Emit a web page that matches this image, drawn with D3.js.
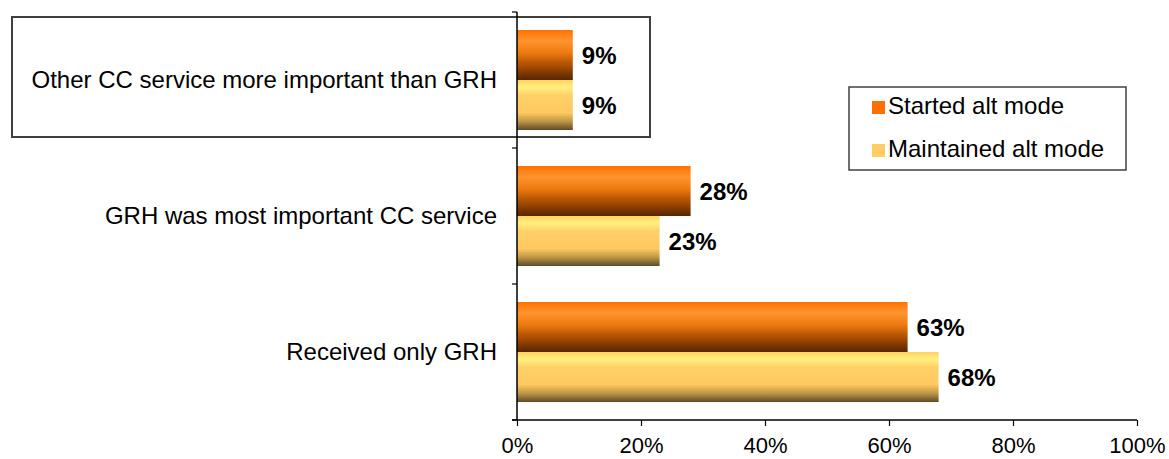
<!DOCTYPE html>
<html>
<head>
<meta charset="utf-8">
<script src="https://cdn.jsdelivr.net/npm/d3@7"></script>
<style>
  body { margin: 0; background: #fff; }
  text { font-family: "Liberation Sans", Arial, sans-serif; }
</style>
</head>
<body>
<script>
// data
let categories = ["Other CC service more important than GRH", "GRH was most important CC service", "Received only GRH"]
let seriesNames = ["Started alt mode", "Maintained alt mode"]
let started = [9, 28, 63]
let maintained = [9, 23, 68]
let ticks = [0, 20, 40, 60, 80, 100]

let W = 1169, H = 459
let margin = {top: 12, right: 32, bottom: 39, left: 517}

let svg = d3.select("body").append("svg")
    .attr("width", W)
    .attr("height", H)

// gradients
let defs = svg.append("defs")
let gOrange = defs.append("linearGradient").attr("id", "gOrange")
    .attr("x1", 0).attr("y1", 0).attr("x2", 0).attr("y2", 1)
;[[0, "#ff7200"], [0.22, "#ff9530"], [0.45, "#f07a10"], [0.75, "#a04800"], [1, "#552500"]]
  .forEach(s => gOrange.append("stop").attr("offset", s[0]).attr("stop-color", s[1]))
let gYellow = defs.append("linearGradient").attr("id", "gYellow")
    .attr("x1", 0).attr("y1", 0).attr("x2", 0).attr("y2", 1)
;[[0, "#ffd060"], [0.14, "#fff080"], [0.3, "#ffd068"], [0.65, "#ffc860"], [0.82, "#c09a48"], [1, "#5e4a28"]]
  .forEach(s => gYellow.append("stop").attr("offset", s[0]).attr("stop-color", s[1]))

let fills = ["url(#gOrange)", "url(#gYellow)"]
let legendColors = ["#ff7000", "#ffcc66"]

let x = d3.scaleLinear().domain([0, 100]).range([margin.left, W - margin.right])
let y = d3.scaleBand().domain(categories).range([margin.top, H - margin.bottom])
    .paddingInner(0).paddingOuter(0)
let barPad = 18
let barH = (y.bandwidth() - 2 * barPad) / 2

// box around the first category label
svg.append("rect")
    .attr("x", 12).attr("y", 17)
    .attr("width", 638).attr("height", 120)
    .attr("fill", "none")
    .attr("stroke", "#404040")
    .attr("stroke-width", 2)

// bars
let rows = categories.map((c, i) => ({cat: c, vals: [started[i], maintained[i]]}))
let grp = svg.selectAll(".cat").data(rows).enter().append("g").attr("class", "cat")

grp.each(function(d) {
  let g = d3.select(this)
  d.vals.forEach((v, j) => {
    let by = y(d.cat) + barPad + j * barH
    g.append("rect")
      .attr("x", x(0)).attr("y", by)
      .attr("width", x(v) - x(0)).attr("height", barH)
      .attr("fill", fills[j])
    g.append("text")
      .attr("x", x(v) + 9).attr("y", by + barH / 2)
      .attr("dy", "0.38em")
      .attr("font-size", 24).attr("font-weight", "bold")
      .text(v + "%")
  })
})

// category labels
svg.selectAll(".clabel").data(categories).enter().append("text")
    .attr("x", 497)
    .attr("y", d => y(d) + y.bandwidth() / 2)
    .attr("dy", "0.35em")
    .attr("text-anchor", "end")
    .attr("font-size", 24)
    .text(d => d)

// x axis
let xAxis = svg.append("g")
    .attr("transform", "translate(0," + (H - margin.bottom) + ")")
    .call(d3.axisBottom(x).tickValues(ticks).tickFormat(d => d + "%").tickSize(6).tickSizeOuter(0))
xAxis.select(".domain").remove()
xAxis.append("line").attr("x1", margin.left - 5).attr("x2", x(100)).attr("stroke", "#000").attr("stroke-width", 1.5)
xAxis.selectAll(".tick line").attr("stroke", "#000").attr("stroke-width", 1.2)
xAxis.selectAll(".tick text").attr("font-size", 22).attr("fill", "#000")
    .attr("y", 33).attr("dy", 0)
    .style("font-family", "Liberation Sans, Arial, sans-serif")

// y axis
let yAxisG = svg.append("g")
yAxisG.append("line")
    .attr("x1", x(0)).attr("x2", x(0))
    .attr("y1", margin.top).attr("y2", H - margin.bottom)
    .attr("stroke", "#000").attr("stroke-width", 1.5)
let bounds = categories.map(c => y(c)).concat([H - margin.bottom])
yAxisG.selectAll(".yt").data(bounds).enter().append("line")
    .attr("x1", x(0) - 5).attr("x2", x(0))
    .attr("y1", d => d).attr("y2", d => d)
    .attr("stroke", "#000").attr("stroke-width", 1.2)

// legend
let lg = svg.append("g").attr("transform", "translate(849,87)")
lg.append("rect").attr("width", 277).attr("height", 83)
    .attr("fill", "#fff").attr("stroke", "#404040").attr("stroke-width", 1.5)
seriesNames.forEach((s, i) => {
  lg.append("rect").attr("x", 23).attr("y", 14 + i * 43).attr("width", 13).attr("height", 13)
    .attr("fill", legendColors[i])
  lg.append("text").attr("x", 39).attr("y", 27 + i * 43)
    .attr("font-size", 24).text(s)
})
</script>
</body>
</html>
